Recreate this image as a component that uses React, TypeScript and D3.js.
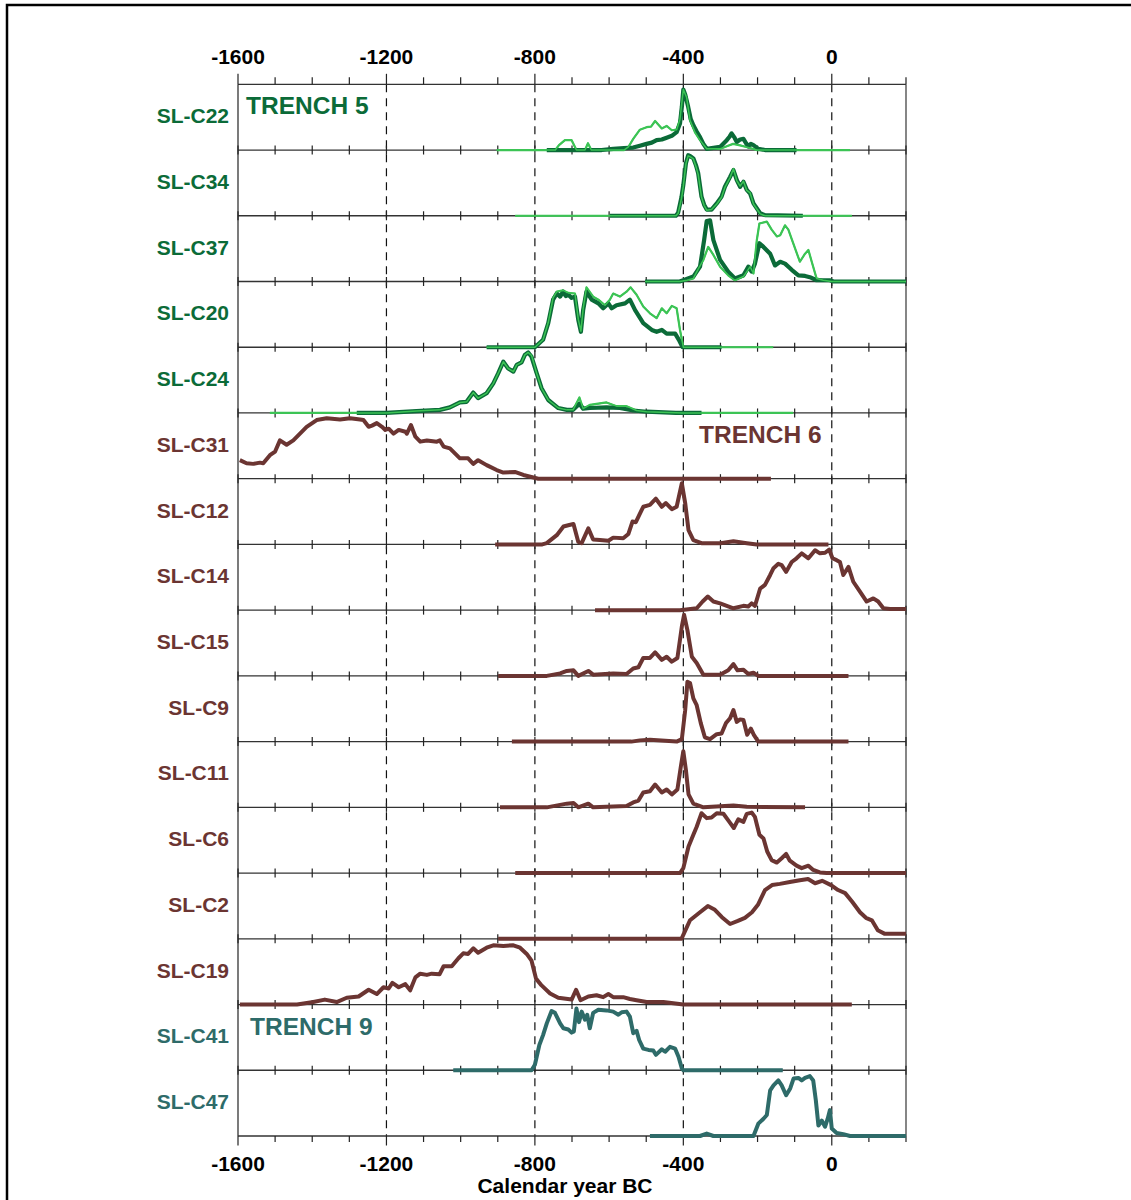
import React from "react";
import * as d3 from "d3";

// ---------- data ----------
const sampleLabels = [
  "SL-C22", "SL-C34", "SL-C37", "SL-C20", "SL-C24",
  "SL-C31", "SL-C12", "SL-C14", "SL-C15", "SL-C9", "SL-C11", "SL-C6", "SL-C2", "SL-C19",
  "SL-C41", "SL-C47",
];
const sampleTrench = [5, 5, 5, 5, 5, 6, 6, 6, 6, 6, 6, 6, 6, 6, 9, 9];
const trenchLabels = ["TRENCH 5", "TRENCH 6", "TRENCH 9"];
const tickYears = d3.range(-1600, 201, 100);
const labelYears = [-1600, -1200, -800, -400, 0];
const axisTitle = "Calendar year BC";

type P = [number, number];

// Trench 5 : light (unmodelled) and dark (modelled) curves
const C22_light: P[] = [[-903,0],[-745,0],[-735,0.08],[-719,0.16],[-701,0.16],[-688,0],[-665,0],[-657,0.11],[-648,0],[-560,0],[-548,0.05],[-535,0.18],[-517,0.33],[-499,0.37],[-487,0.38],[-476,0.47],[-458,0.35],[-445,0.39],[-431,0.32],[-418,0.33],[-409,0.5],[-400,0.98],[-391,0.85],[-382,0.48],[-368,0.28],[-355,0.16],[-337,0.02],[-300,0.02],[-283,0.06],[-266,0.1],[-250,0.08],[-230,0.05],[-202,0],[49,0]];
const C22_dark: P[] = [[-768,0],[-620,0],[-589,0.02],[-560,0.03],[-535,0.04],[-517,0.07],[-499,0.1],[-485,0.12],[-472,0.16],[-458,0.17],[-445,0.2],[-431,0.23],[-418,0.29],[-409,0.43],[-404,0.7],[-400,0.98],[-395,0.9],[-387,0.7],[-380,0.5],[-373,0.4],[-364,0.3],[-355,0.21],[-346,0.1],[-337,0.02],[-301,0.05],[-283,0.16],[-275,0.22],[-270,0.27],[-262,0.2],[-256,0.13],[-247,0.17],[-238,0.18],[-230,0.1],[-225,0.06],[-218,0.1],[-211,0.08],[-198,0.02],[-180,0],[-95,0]];
const C34_light: P[] = [[-853,0],[-420,0],[-414,0.04],[-405,0.28],[-400,0.48],[-393,0.84],[-387,0.97],[-380,0.95],[-373,0.92],[-366,0.8],[-360,0.67],[-351,0.3],[-344,0.17],[-337,0.09],[-324,0.1],[-310,0.19],[-297,0.3],[-288,0.46],[-274,0.62],[-265,0.76],[-256,0.57],[-247,0.48],[-238,0.56],[-229,0.41],[-220,0.37],[-211,0.19],[-193,0.03],[-180,0],[54,0]];
const C34_dark: P[] = [[-598,0],[-420,0],[-414,0.05],[-405,0.3],[-400,0.5],[-393,0.85],[-387,0.98],[-380,0.96],[-373,0.93],[-366,0.82],[-360,0.69],[-351,0.31],[-344,0.18],[-337,0.1],[-324,0.1],[-310,0.2],[-297,0.31],[-288,0.47],[-274,0.63],[-265,0.74],[-256,0.58],[-247,0.47],[-238,0.55],[-229,0.42],[-220,0.36],[-211,0.2],[-193,0.04],[-180,0.01],[-78,0]];
const C37_light: P[] = [[-503,0],[-410,0],[-390,0.02],[-373,0.05],[-360,0.2],[-346,0.35],[-333,0.56],[-319,0.43],[-301,0.24],[-279,0.1],[-261,0.02],[-238,0.08],[-220,0.24],[-211,0.13],[-202,0.67],[-195,0.94],[-175,0.97],[-162,0.84],[-148,0.73],[-139,0.75],[-126,0.91],[-117,0.84],[-104,0.62],[-86,0.32],[-72,0.45],[-63,0.51],[-54,0.32],[-41,0.05],[-23,0.02],[0,0],[200,0]];
const C37_dark: P[] = [[-503,0],[-410,0],[-400,0.02],[-373,0.08],[-355,0.24],[-344,0.67],[-337,0.98],[-328,0.99],[-319,0.67],[-301,0.35],[-279,0.16],[-261,0.05],[-238,0.1],[-225,0.24],[-216,0.16],[-207,0.29],[-195,0.62],[-184,0.56],[-166,0.45],[-153,0.26],[-139,0.32],[-126,0.29],[-108,0.19],[-90,0.1],[-72,0.09],[-59,0.07],[-41,0.02],[-5,0.02],[5,0],[200,0]];
const C20_light: P[] = [[-930,0],[-800,0],[-778,0.12],[-764,0.4],[-751,0.8],[-741,0.9],[-724,0.92],[-710,0.88],[-692,0.87],[-683,0.45],[-676,0.26],[-670,0.62],[-661,0.97],[-643,0.82],[-629,0.77],[-611,0.68],[-598,0.77],[-589,0.87],[-571,0.82],[-553,0.9],[-542,0.97],[-526,0.85],[-508,0.66],[-490,0.55],[-472,0.47],[-458,0.63],[-445,0.55],[-431,0.67],[-418,0.63],[-409,0.28],[-400,0],[-158,0]];
const C20_dark: P[] = [[-930,0],[-800,0],[-778,0.12],[-764,0.39],[-751,0.77],[-741,0.87],[-732,0.82],[-724,0.9],[-717,0.83],[-710,0.85],[-701,0.8],[-692,0.82],[-683,0.44],[-676,0.25],[-670,0.6],[-661,0.9],[-647,0.77],[-629,0.71],[-616,0.63],[-602,0.71],[-593,0.63],[-580,0.68],[-557,0.71],[-544,0.77],[-530,0.6],[-508,0.39],[-485,0.28],[-472,0.25],[-458,0.28],[-445,0.22],[-422,0.22],[-412,0.12],[-402,0],[-297,0]];
const C24_light: P[] = [[-1514,0],[-1200,0],[-1119,0.03],[-1056,0.05],[-1029,0.09],[-1002,0.17],[-984,0.18],[-966,0.33],[-953,0.24],[-930,0.32],[-912,0.48],[-899,0.64],[-885,0.83],[-872,0.72],[-858,0.67],[-849,0.78],[-836,0.82],[-827,0.94],[-818,0.98],[-809,0.93],[-795,0.64],[-782,0.4],[-764,0.21],[-737,0.08],[-714,0.05],[-697,0.05],[-680,0.25],[-670,0.07],[-652,0.13],[-607,0.17],[-580,0.11],[-553,0.11],[-526,0.04],[-499,0.02],[-400,0],[-104,0]];
const C24_dark: P[] = [[-1280,0],[-1200,0],[-1119,0.03],[-1056,0.05],[-1029,0.09],[-1002,0.17],[-984,0.18],[-966,0.33],[-953,0.24],[-930,0.32],[-912,0.48],[-899,0.64],[-885,0.83],[-872,0.72],[-858,0.67],[-849,0.78],[-836,0.82],[-827,0.94],[-818,0.98],[-809,0.91],[-795,0.64],[-782,0.4],[-764,0.21],[-737,0.08],[-714,0.05],[-697,0.05],[-680,0.15],[-670,0.07],[-652,0.08],[-607,0.09],[-571,0.08],[-535,0.04],[-499,0.02],[-420,0],[-351,0]];

// Trench 6
const C31: P[] = [[-1595,0.3],[-1577,0.25],[-1559,0.24],[-1541,0.26],[-1532,0.25],[-1514,0.38],[-1500,0.44],[-1487,0.62],[-1469,0.55],[-1451,0.62],[-1433,0.73],[-1415,0.84],[-1388,0.95],[-1361,0.98],[-1325,0.96],[-1298,0.98],[-1271,0.96],[-1262,0.95],[-1248,0.84],[-1239,0.86],[-1226,0.9],[-1212,0.84],[-1203,0.79],[-1194,0.81],[-1181,0.73],[-1167,0.79],[-1149,0.76],[-1145,0.73],[-1134,0.87],[-1122,0.68],[-1109,0.6],[-1091,0.62],[-1064,0.6],[-1056,0.62],[-1046,0.52],[-1029,0.49],[-1002,0.33],[-980,0.33],[-966,0.24],[-953,0.3],[-930,0.22],[-903,0.14],[-885,0.1],[-854,0.11],[-831,0.06],[-804,0.02],[-791,0],[-164,0]];
const C12: P[] = [[-907,0],[-780,0],[-768,0.02],[-741,0.15],[-723,0.29],[-710,0.31],[-696,0.33],[-683,0.04],[-674,0.02],[-656,0.26],[-643,0.08],[-625,0.07],[-602,0.06],[-589,0.11],[-562,0.1],[-548,0.17],[-537,0.37],[-528,0.36],[-517,0.5],[-508,0.61],[-490,0.64],[-474,0.74],[-458,0.61],[-447,0.67],[-431,0.57],[-418,0.61],[-404,0.99],[-395,0.67],[-386,0.23],[-373,0.07],[-351,0.02],[-300,0.02],[-265,0.05],[-229,0.02],[-202,0],[-9,0]];
const C14: P[] = [[-638,0],[-409,0],[-364,0.03],[-348,0.14],[-334,0.22],[-319,0.14],[-301,0.11],[-265,0.03],[-238,0.07],[-225,0.06],[-216,0.11],[-207,0.07],[-193,0.35],[-180,0.41],[-166,0.57],[-157,0.68],[-144,0.75],[-135,0.73],[-123,0.62],[-108,0.78],[-95,0.84],[-81,0.92],[-63,0.84],[-45,0.97],[-32,0.92],[-18,0.93],[-7,0.98],[2,0.84],[13,0.81],[22,0.78],[31,0.57],[45,0.7],[58,0.46],[76,0.3],[94,0.14],[112,0.19],[125,0.14],[139,0.03],[157,0.02],[200,0.02]];
const C15: P[] = [[-899,0],[-768,0],[-732,0.04],[-714,0.08],[-696,0.09],[-683,0],[-656,0.08],[-643,0.02],[-589,0.04],[-553,0.03],[-535,0.12],[-521,0.14],[-508,0.29],[-490,0.29],[-476,0.38],[-458,0.26],[-445,0.31],[-431,0.23],[-416,0.29],[-404,0.8],[-398,0.99],[-389,0.74],[-377,0.31],[-364,0.21],[-346,0.02],[-301,0.02],[-279,0.09],[-265,0.19],[-254,0.09],[-238,0.1],[-225,0.03],[-211,0.05],[-198,0],[45,0]];
const C9: P[] = [[-862,0],[-540,0],[-517,0.02],[-490,0.03],[-418,0],[-404,0.04],[-395,0.51],[-389,0.97],[-382,0.95],[-373,0.7],[-364,0.59],[-353,0.3],[-342,0.07],[-328,0.04],[-310,0.12],[-297,0.13],[-285,0.3],[-274,0.38],[-265,0.51],[-256,0.32],[-247,0.36],[-238,0.35],[-228,0.11],[-218,0.21],[-210,0.11],[-198,0],[45,0]];
const C11: P[] = [[-894,0],[-768,0],[-732,0.04],[-714,0.06],[-696,0.07],[-683,0],[-656,0.06],[-643,0],[-553,0.02],[-535,0.08],[-521,0.11],[-508,0.24],[-490,0.26],[-476,0.37],[-458,0.24],[-445,0.29],[-431,0.21],[-416,0.29],[-407,0.65],[-400,0.91],[-393,0.6],[-386,0.21],[-373,0.06],[-346,0],[-265,0.03],[-229,0.01],[-72,0]];
const C6: P[] = [[-853,0],[-409,0],[-400,0.08],[-386,0.43],[-373,0.62],[-364,0.75],[-351,0.97],[-337,0.89],[-324,0.9],[-310,0.97],[-292,0.96],[-276,0.83],[-264,0.73],[-252,0.87],[-238,0.83],[-229,0.96],[-216,0.98],[-207,0.91],[-195,0.62],[-184,0.56],[-174,0.35],[-162,0.21],[-148,0.17],[-135,0.24],[-123,0.31],[-113,0.2],[-95,0.12],[-81,0.08],[-63,0.12],[-50,0.05],[-32,0.01],[-14,0],[200,0]];
const C2: P[] = [[-899,0],[-405,0],[-382,0.3],[-355,0.43],[-334,0.53],[-315,0.47],[-296,0.35],[-274,0.24],[-253,0.29],[-234,0.34],[-215,0.43],[-199,0.55],[-180,0.79],[-161,0.87],[-140,0.89],[-113,0.92],[-86,0.95],[-64,0.97],[-45,0.9],[-26,0.94],[-2,0.87],[17,0.79],[36,0.74],[55,0.6],[76,0.43],[92,0.34],[108,0.3],[124,0.14],[143,0.08],[200,0.08]];
const C19: P[] = [[-1595,0],[-1441,0],[-1397,0.04],[-1366,0.08],[-1334,0.04],[-1307,0.11],[-1275,0.13],[-1248,0.24],[-1226,0.17],[-1208,0.28],[-1194,0.26],[-1184,0.35],[-1167,0.28],[-1149,0.33],[-1136,0.23],[-1122,0.44],[-1109,0.5],[-1091,0.48],[-1078,0.5],[-1057,0.49],[-1046,0.62],[-1024,0.62],[-1006,0.75],[-993,0.83],[-980,0.82],[-966,0.91],[-953,0.84],[-930,0.92],[-912,0.96],[-885,0.95],[-858,0.96],[-840,0.92],[-822,0.82],[-809,0.71],[-797,0.42],[-782,0.31],[-759,0.18],[-737,0.11],[-701,0.08],[-689,0.24],[-677,0.07],[-656,0.13],[-634,0.15],[-616,0.12],[-602,0.17],[-589,0.12],[-562,0.12],[-544,0.09],[-526,0.07],[-499,0.04],[-454,0.04],[-400,0],[54,0]];

// Trench 9
const C41: P[] = [[-1020,0],[-809,0],[-800,0.09],[-788,0.41],[-778,0.57],[-768,0.76],[-755,0.96],[-746,0.93],[-732,0.76],[-723,0.68],[-710,0.66],[-701,0.61],[-695,0.63],[-688,1.0],[-681,0.78],[-674,0.95],[-665,0.82],[-659,0.9],[-652,0.68],[-643,0.93],[-629,0.98],[-607,0.97],[-589,0.95],[-575,0.9],[-566,0.94],[-553,0.95],[-544,0.87],[-535,0.6],[-526,0.64],[-519,0.49],[-508,0.35],[-494,0.33],[-481,0.32],[-474,0.25],[-458,0.34],[-449,0.3],[-436,0.38],[-422,0.35],[-413,0.22],[-404,0.03],[-400,0],[-132,0]];
const C47: P[] = [[-490,0],[-355,0],[-337,0.04],[-319,0],[-211,0],[-198,0.2],[-184,0.28],[-175,0.34],[-166,0.74],[-157,0.82],[-144,0.9],[-135,0.82],[-123,0.66],[-112,0.77],[-103,0.93],[-90,0.94],[-81,0.9],[-72,0.94],[-59,0.97],[-50,0.9],[-43,0.58],[-36,0.17],[-27,0.25],[-18,0.15],[-11,0.28],[-5,0.42],[0,0.12],[13,0.05],[31,0.03],[49,0],[200,0]];

const lightSeries: (P[] | null)[] = [C22_light, C34_light, C37_light, C20_light, C24_light, null, null, null, null, null, null, null, null, null, null, null];
const mainSeries: P[][] = [C22_dark, C34_dark, C37_dark, C20_dark, C24_dark, C31, C12, C14, C15, C9, C11, C6, C2, C19, C41, C47];

// ---------- styles ----------
const trenchColor: Record<number, string> = { 5: "#0b6b38", 6: "#6b3532", 9: "#2e6b69" };
const lightGreen = "#3cc455";
const FONT = "'Liberation Sans', Arial, Helvetica, sans-serif";

export default function App() {
  const W = 1131, H = 1200;
  const X0 = 238, X1 = 906, TOP = 84.3, BOTTOM = 1136;
  const nRows = sampleLabels.length;
  const x = d3.scaleLinear().domain([-1600, 200]).range([X0, X1]);
  const rowY = d3.scaleLinear().domain([0, nRows]).range([TOP, BOTTOM]);
  const rowH = rowY(1) - rowY(0);

  const lineFor = (i: number) => {
    const base = rowY(i + 1);
    const y = d3.scaleLinear().domain([0, 1]).range([base, base - rowH + 4]);
    return d3.line<P>().x((d) => x(d[0])).y((d) => y(d[1]));
  };

  const rowLines = d3.range(0, nRows + 1).map((i) => rowY(i));
  const isMajor = (t: number) => t % 400 === 0;

  return (
    <svg width={W} height={H} style={{ position: "absolute", left: 0, top: 0, background: "#fff" }} fontFamily={FONT}>
      <rect x={0} y={0} width={W} height={H} fill="#fff" />
      <path d={`M7,${H} V5 H${W}`} fill="none" stroke="#000" strokeWidth={2.5} />

      {/* dashed reference lines */}
      {labelYears.filter((t) => t > -1600).map((t) => (
        <line key={"d" + t} x1={x(t)} x2={x(t)} y1={TOP} y2={BOTTOM} stroke="#111" strokeWidth={1.2} strokeDasharray="8,6" />
      ))}

      {/* frame and row separators */}
      {rowLines.map((yy, i) => (
        <line key={"r" + i} x1={X0} x2={X1} y1={yy} y2={yy} stroke="#333" strokeWidth={1.3} />
      ))}
      <line x1={X0} x2={X0} y1={TOP} y2={BOTTOM} stroke="#333" strokeWidth={1.3} />
      <line x1={X1} x2={X1} y1={TOP} y2={BOTTOM} stroke="#444" strokeWidth={1.3} />

      {/* ticks */}
      {tickYears.map((t) => (
        <g key={"t" + t} stroke="#222" strokeWidth={1.2}>
          <line x1={x(t)} x2={x(t)} y1={TOP} y2={TOP - (isMajor(t) ? 10.5 : 7)} />
          <line x1={x(t)} x2={x(t)} y1={BOTTOM} y2={BOTTOM + (isMajor(t) ? 9.5 : 6)} />
          {rowLines.slice(1, -1).map((yy, i) => (
            <line key={i} x1={x(t)} x2={x(t)} y1={yy - 4.5} y2={yy + 4.5} />
          ))}
        </g>
      ))}

      {/* tick labels */}
      {labelYears.map((t) => (
        <g key={"l" + t} fontWeight="bold" fontSize={21} textAnchor="middle" fill="#000">
          <text x={x(t)} y={64}>{t}</text>
          <text x={x(t)} y={1171}>{t}</text>
        </g>
      ))}
      <text x={565} y={1193} fontWeight="bold" fontSize={21} textAnchor="middle" fill="#000">{axisTitle}</text>

      {/* curves */}
      {mainSeries.map((s, i) => {
        const line = lineFor(i);
        const light = lightSeries[i];
        const tr = sampleTrench[i];
        return (
          <g key={"c" + i} fill="none" strokeLinejoin="round" strokeLinecap="butt">
            {light && <path d={line(light) || ""} stroke={lightGreen} strokeWidth={2.2} />}
            <path d={line(s) || ""} stroke={trenchColor[tr]} strokeWidth={tr === 5 ? 4.2 : 4} />
            {light && <path d={line(light) || ""} stroke={lightGreen} strokeWidth={1.5} />}
          </g>
        );
      })}

      {/* row labels */}
      {sampleLabels.map((lab, i) => (
        <text key={"s" + i} x={229} y={(rowY(i) + rowY(i + 1)) / 2 + 6} textAnchor="end" fontWeight="bold" fontSize={21} fill={trenchColor[sampleTrench[i]]}>
          {lab}
        </text>
      ))}

      {/* trench labels */}
      <text x={246} y={114} fontWeight="bold" fontSize={24.5} fill={trenchColor[5]}>{trenchLabels[0]}</text>
      <text x={699} y={443} fontWeight="bold" fontSize={24.5} fill={trenchColor[6]}>{trenchLabels[1]}</text>
      <text x={250} y={1035} fontWeight="bold" fontSize={24.5} fill={trenchColor[9]}>{trenchLabels[2]}</text>
    </svg>
  );
}
